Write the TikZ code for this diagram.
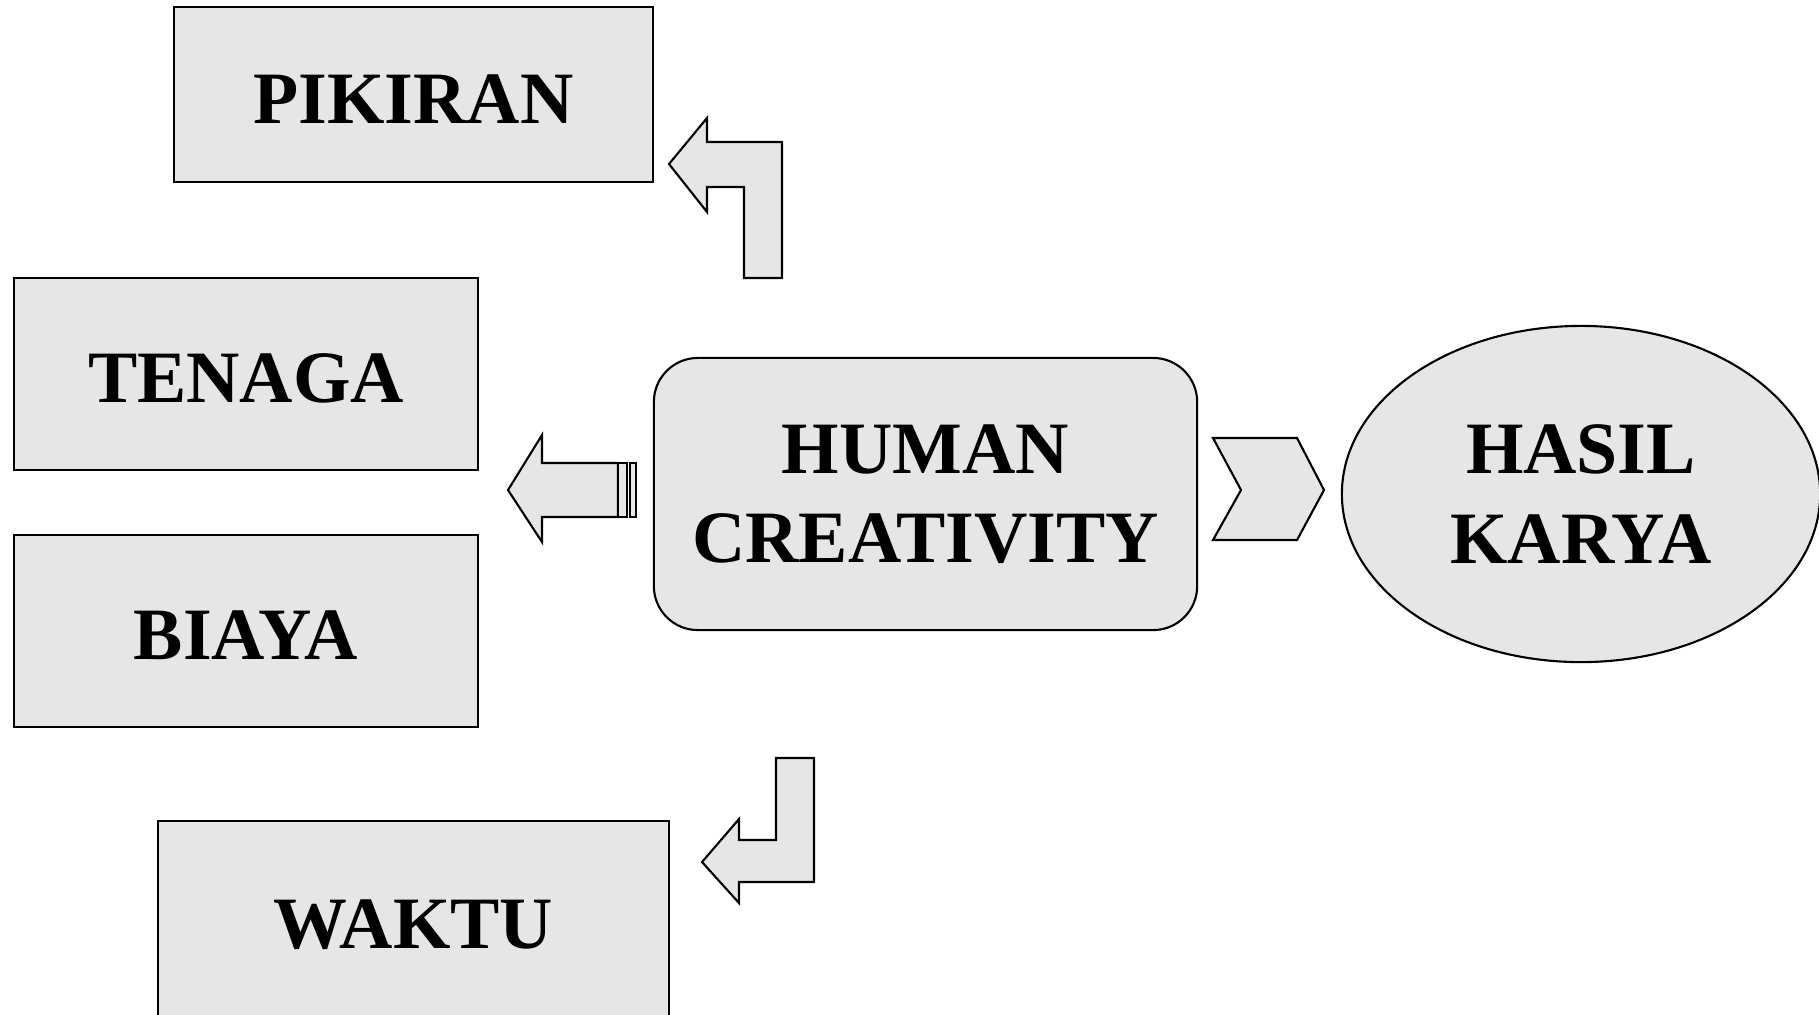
\documentclass[tikz,border=0pt]{standalone}
\usepackage{fontspec}
\setmainfont{Liberation Serif}
\usetikzlibrary{shapes.geometric}
\definecolor{panel}{HTML}{E6E6E6}
\begin{document}
\begin{tikzpicture}[x=0.01cm,y=-0.01cm,
  outline/.style={draw=black,line width=0.6pt,fill=panel},
  label/.style={font=\fontsize{21}{25.4}\selectfont\bfseries,align=center,text=black,
    execute at begin node={\rule{0pt}{16.5pt}}},
  twoline/.style={execute at begin node={\rule{0pt}{20pt}}},
  box/.style={outline,label,rectangle,inner sep=0pt},
  shape arrow/.style={outline,line join=miter}]
\useasboundingbox (0,0) rectangle (1819,1014);
\clip (0,0) rectangle (1819,1014);

% resource boxes
\node[box,minimum width=4.79cm,minimum height=1.75cm] (pikiran) at (413.5,94.5) {PIKIRAN};
\node[box,minimum width=4.64cm,minimum height=1.92cm] (tenaga) at (246,374) {TENAGA};
\node[box,minimum width=4.64cm,minimum height=1.92cm] (biaya) at (246,631) {BIAYA};
\node[box,minimum width=5.11cm,minimum height=1.98cm] (waktu) at (413.5,920) {WAKTU};

% central process and result
\node[box,twoline,rounded corners=0.44cm,minimum width=5.43cm,minimum height=2.72cm] (human) at (925.5,494) {HUMAN\\CREATIVITY};
\node[outline,label,twoline,ellipse,inner sep=0pt,minimum width=4.78cm,minimum height=3.36cm] (hasil) at (1581,494) {HASIL\\KARYA};

% bent arrow towards PIKIRAN
\draw[shape arrow] (669,164) -- (707,118) -- (707,142) -- (782,142) -- (782,278)
  -- (744,278) -- (744,187) -- (707,187) -- (707,212) -- cycle;

% striped arrow towards TENAGA / BIAYA
\draw[shape arrow] (508,490) -- (542,435) -- (542,463) -- (618,463) -- (618,517)
  -- (542,517) -- (542,542) -- cycle;
\draw[shape arrow] (618,463) rectangle (627,517);
\draw[shape arrow] (630,463) rectangle (636,517);

% chevron towards HASIL KARYA
\draw[shape arrow] (1213,438) -- (1297,438) -- (1324,490) -- (1297,540) -- (1213,540)
  -- (1241,490) -- cycle;

% bent arrow towards WAKTU
\draw[shape arrow] (702,862) -- (739,819) -- (739,840) -- (776,840) -- (776,758)
  -- (814,758) -- (814,882) -- (739,882) -- (739,903) -- cycle;
\end{tikzpicture}
\end{document}
